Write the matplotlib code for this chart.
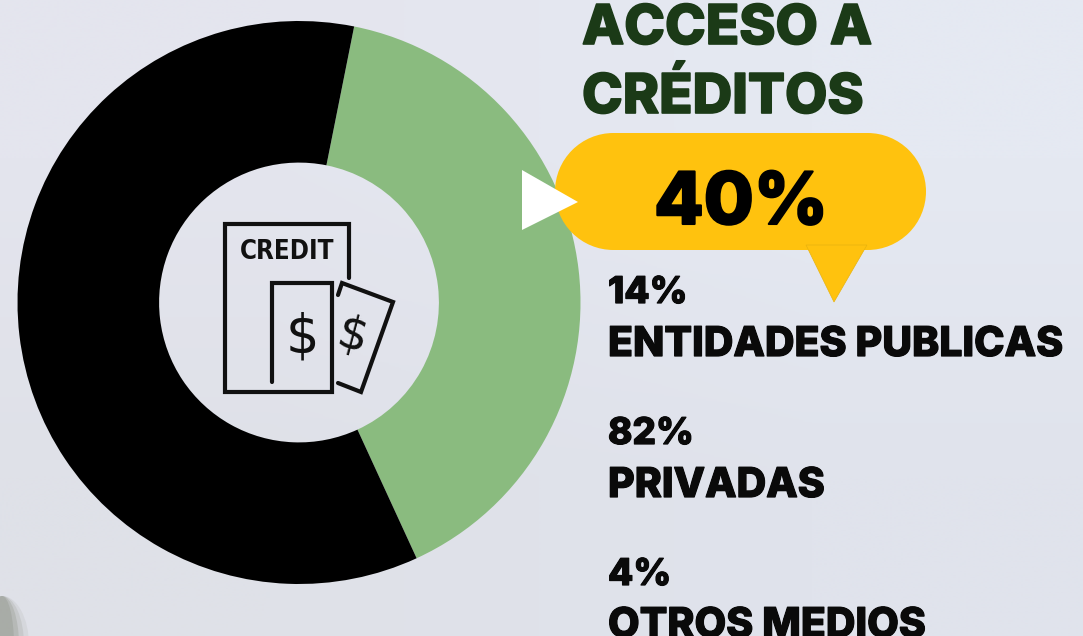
import matplotlib
matplotlib.use('Agg')
import matplotlib.pyplot as plt
import matplotlib.patheffects as pe
import numpy as np
from matplotlib.patches import Circle, Rectangle, Polygon, Ellipse

W, H = 1083, 636

# donut values
donut_labels = ['Acceso', 'Sin acceso']
donut_values = [40, 60]
donut_colors = ['#8abb7f', '#000000']

title_lines = ['ACCESO A', 'CRÉDITOS']
main_pct = '40%'
pct_labels = ['14%', '82%', '4%']
name_labels = ['ENTIDADES PUBLICAS', 'PRIVADAS', 'OTROS MEDIOS']

font = 'Inter'
bg = '#e0e3ec'


def heavy(width):
    # Inter only comes in semi bold here, so thicken it a little
    return [pe.withStroke(linewidth=width, foreground='none'), pe.Stroke(linewidth=width), pe.Normal()]


fig = plt.figure(figsize=(W / 100, H / 100), dpi=100, facecolor=bg)

# pale background, a bit lighter along the top
ax_bg = fig.add_axes([0, 0, 1, 1])
top = np.array([[228, 229, 238], [229, 233, 242]]) / 255
bottom = np.array([[223, 225, 232], [224, 227, 236]]) / 255
ax_bg.imshow(np.stack([top, bottom]), extent=[0, W, H, 0], aspect='auto', interpolation='bilinear')
ax_bg.axis('off')

# donut gets its own axes, sized in pixels
cx, cy, r = 299, 302.5, 281.5
ax_pie = fig.add_axes([(cx - r) / W, 1 - (cy + r) / H, 2 * r / W, 2 * r / H], facecolor='none')
ax_pie.pie(donut_values, colors=donut_colors, startangle=78.7, counterclock=False,
           radius=1, wedgeprops={'width': 0.503})
ax_pie.set_xlim(-1, 1)
ax_pie.set_ylim(-1, 1)
ax_pie.axis('off')

# overlay in pixel coords, y going down
ax = fig.add_axes([0, 0, 1, 1], facecolor='none')
ax.set_xlim(0, W)
ax.set_ylim(H, 0)
ax.axis('off')

# blurry leftover of the photo in the corner
for w, a in [(54, 0.12), (44, 0.2), (34, 0.3), (24, 0.35)]:
    ax.add_patch(Ellipse((2, 645), w, 98, color='#8f948a', alpha=a, lw=0))

# callout: pill made from two circles and a rectangle
yellow = '#ffc20e'
ax.add_patch(Rectangle((613.5, 133), 254, 117, fc=yellow, ec='none'))
ax.add_patch(Circle((613.5, 191.5), 58.5, fc=yellow, ec='none'))
ax.add_patch(Circle((867.5, 191.5), 58.5, fc=yellow, ec='none'))
ax.add_patch(Polygon([(806, 245), (867, 245), (834, 302)], fc=yellow, ec='#e8b30f', lw=0.5))
ax.add_patch(Polygon([(522, 170), (522, 230), (578, 202)], fc='white', ec='none'))

# credit icon
icon_lines = [
    ([349, 349, 225, 225, 332, 332, 272, 272], [278, 224, 224, 392, 392, 283, 283, 382]),
    ([338, 342, 393, 361, 338], [295, 283, 302, 392, 383]),
]
for xs, ys in icon_lines:
    ax.plot(xs, ys, color='#111111', lw=3, solid_capstyle='round', solid_joinstyle='miter')
ax.text(287, 252, 'CREDIT', family='DejaVu Sans', stretch='condensed', weight='bold', fontsize=18.5,
        color='#111111', ha='center', va='center')
ax.text(302, 338, '$', family='DejaVu Sans', fontsize=38, color='#111111', ha='center', va='center')
ax.text(352, 337, '$', family='DejaVu Sans', fontsize=34, color='#111111', ha='center', va='center',
        rotation=-15)

# heading
title_base = [44, 113]
for s, y in zip(title_lines, title_base):
    ax.text(582, y, s, family=font, weight='extra bold', fontsize=39.5, color='#1b3a17', va='baseline',
            path_effects=heavy(1.2))

ax.text(741, 224, main_pct, family=font, weight='extra bold', fontsize=52, color='black',
        ha='center', va='baseline', path_effects=heavy(1.5))

# breakdown
pct_base = [303, 444, 585]
name_base = [356, 497, 637]
for p, n, yp, yn in zip(pct_labels, name_labels, pct_base, name_base):
    ax.text(608, yp, p, family=font, weight='extra bold', fontsize=26.5, color='#0a0a0a', va='baseline',
            path_effects=heavy(0.9))
    ax.text(608, yn, n, family=font, weight='extra bold', fontsize=29.5, color='#0a0a0a', va='baseline',
            path_effects=heavy(0.9))

fig.savefig('out.png', dpi=100, facecolor=fig.get_facecolor())
